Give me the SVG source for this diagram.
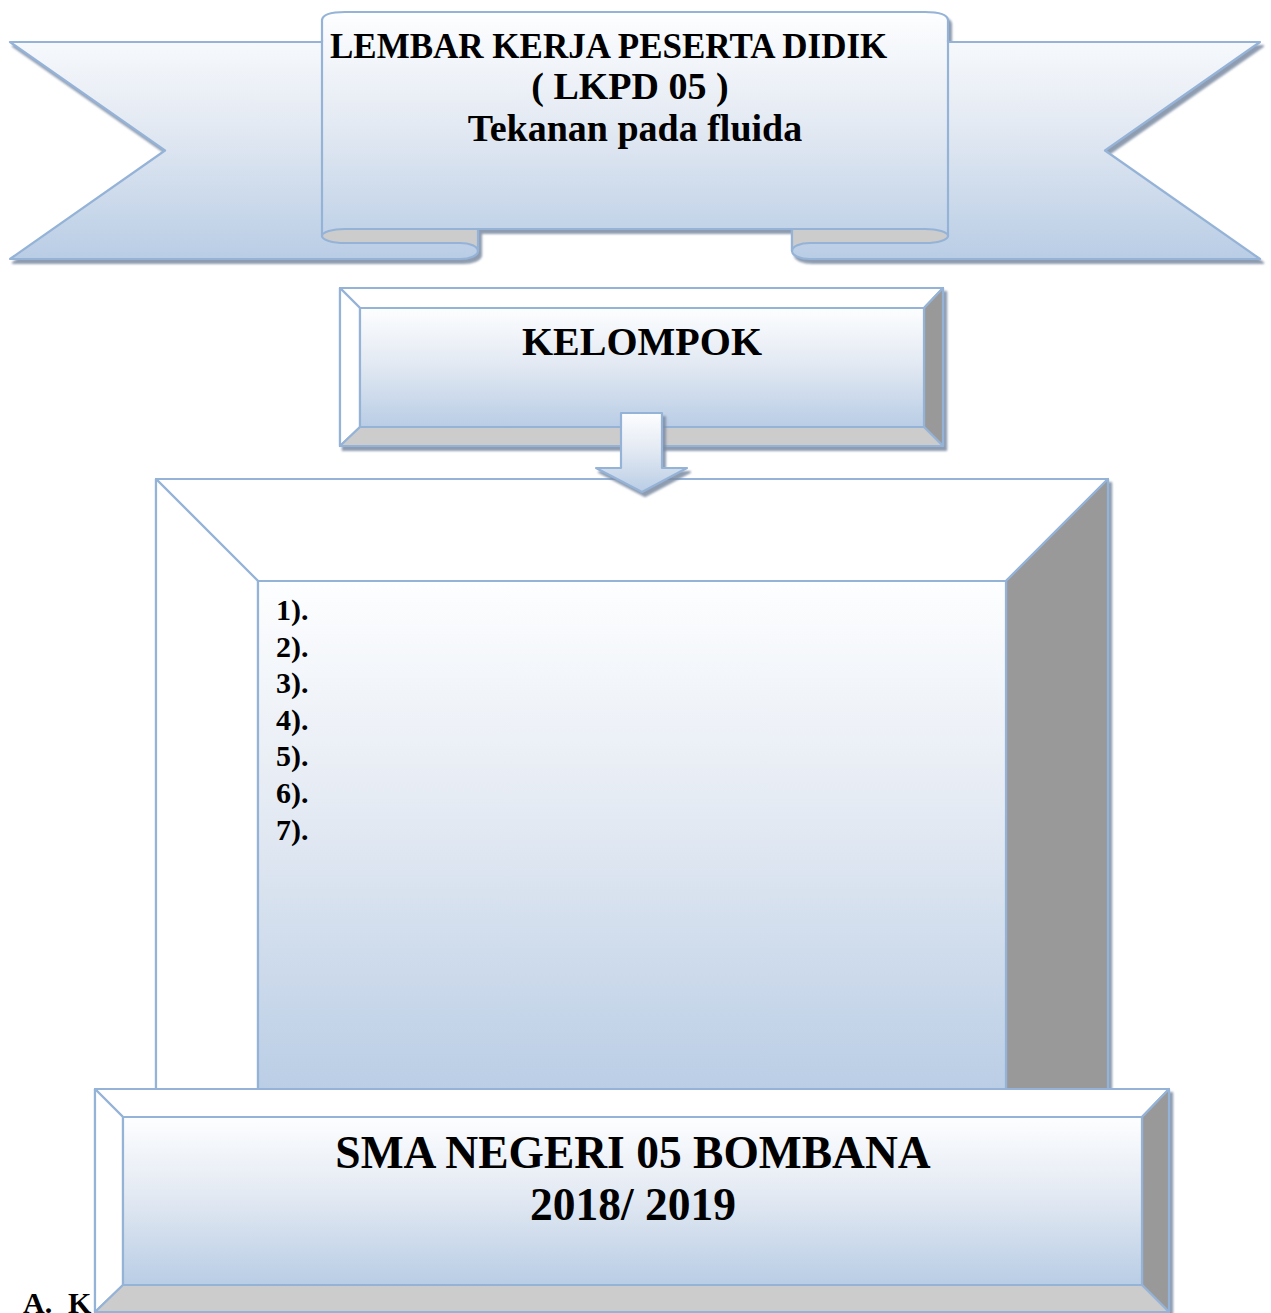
<svg xmlns="http://www.w3.org/2000/svg" width="1271" height="1313" viewBox="0 0 1271 1313">
<style>
.ln{stroke:#95b3d7;stroke-width:2.2;stroke-linejoin:round}
.wt{fill:#ffffff}
.dk{fill:#999999}
.lg{fill:#cccccc}
.t{font-family:"Liberation Serif","Times New Roman",serif;font-weight:bold;fill:#000000}
</style>
<defs>
<linearGradient id="g" x1="0" y1="0" x2="0" y2="1">
<stop offset="0" stop-color="#fdfeff"/>
<stop offset="0.45" stop-color="#e4eaf3"/>
<stop offset="1" stop-color="#b9cde5"/>
</linearGradient>
<filter id="sh" x="-5%" y="-5%" width="112%" height="120%">
<feDropShadow dx="3" dy="4" stdDeviation="0.8" flood-color="#7b8ba3" flood-opacity="0.85"/>
</filter>
</defs>

<g id="title-ribbon">
<g filter="url(#sh)">
<path class="ln" fill="url(#g)" d="M10,42 L322,42 L322,20 Q323,12 345,12 L925,12 Q947,12 948,20 L948,42 L1260,42 L1105,150.5 L1260,259 L810,259 A18 8 0 0 1 792,251 L792,229 L478,229 L478,251 A18 8 0 0 1 460,259 L10,259 L165,150.5 Z"/>
</g>
<path class="ln" fill="none" d="M322,40 L322,236"/>
<path class="ln" fill="none" d="M948,40 L948,236"/>
<path class="ln lg" d="M478,229 L345,229 A23 7 0 0 0 345,243 L460,243 A18 8 0 0 1 478,251 Z"/>
<path class="ln lg" d="M792,229 L925,229 A23 7 0 0 1 925,243 L810,243 A18 8 0 0 0 792,251 Z"/>
<text class="t" font-size="35" x="330" y="58">LEMBAR KERJA PESERTA DIDIK</text>
<text class="t" font-size="38" x="630" y="99" text-anchor="middle">( LKPD 05 )</text>
<text class="t" font-size="38" x="635" y="141" text-anchor="middle">Tekanan pada fluida</text>
</g>

<g id="kelompok">
<g filter="url(#sh)">
<rect class="ln wt" x="340" y="288" width="603" height="158"/>
<polygon class="ln wt" points="340,288 943,288 924,308 360,308"/>
<polygon class="ln wt" points="340,288 360,308 360,427 340,446"/>
<polygon class="ln dk" points="943,288 943,446 924,427 924,308"/>
<polygon class="ln lg" points="340,446 943,446 924,427 360,427"/>
<rect class="ln" fill="url(#g)" x="360" y="308" width="564" height="119"/>
</g>
<text class="t" font-size="40" x="642" y="355" text-anchor="middle">KELOMPOK</text>
</g>

<g id="member-list">
<g filter="url(#sh)">
<rect class="ln wt" x="156" y="479" width="952" height="721"/>
<polygon class="ln wt" points="156,479 1108,479 1006,581 258,581"/>
<polygon class="ln wt" points="156,479 258,581 258,1098 156,1200"/>
<polygon class="ln dk" points="1108,479 1108,1200 1006,1098 1006,581"/>
<polygon class="ln lg" points="156,1200 1108,1200 1006,1098 258,1098"/>
<rect class="ln" fill="url(#g)" x="258" y="581" width="748" height="517"/>
</g>
<text class="t" font-size="30" x="276" y="620">1).</text>
<text class="t" font-size="30" x="276" y="656.6">2).</text>
<text class="t" font-size="30" x="276" y="693.2">3).</text>
<text class="t" font-size="30" x="276" y="729.8">4).</text>
<text class="t" font-size="30" x="276" y="766.4">5).</text>
<text class="t" font-size="30" x="276" y="803">6).</text>
<text class="t" font-size="30" x="276" y="839.6">7).</text>
</g>

<g id="connectors">
<g filter="url(#sh)">
<polygon class="ln" fill="url(#g)" points="621,413 662,413 662,468 687,468 642,492 596,468 621,468"/>
</g>
</g>

<g id="section-heading">
<text class="t" font-size="30" y="1313"><tspan x="23">A.</tspan><tspan x="68">K</tspan></text>
</g>

<g id="school">
<g filter="url(#sh)">
<rect class="ln wt" x="95" y="1089" width="1074" height="223"/>
<polygon class="ln wt" points="95,1089 1169,1089 1142,1117 123,1117"/>
<polygon class="ln wt" points="95,1089 123,1117 123,1285 95,1312"/>
<polygon class="ln dk" points="1169,1089 1169,1312 1142,1285 1142,1117"/>
<polygon class="ln lg" points="95,1312 1169,1312 1142,1285 123,1285"/>
<rect class="ln" fill="url(#g)" x="123" y="1117" width="1019" height="168"/>
</g>
<text class="t" font-size="45.5" x="633" y="1168" text-anchor="middle">SMA NEGERI 05 BOMBANA</text>
<text class="t" font-size="45.5" x="633" y="1220" text-anchor="middle">2018/ 2019</text>
</g>
</svg>
